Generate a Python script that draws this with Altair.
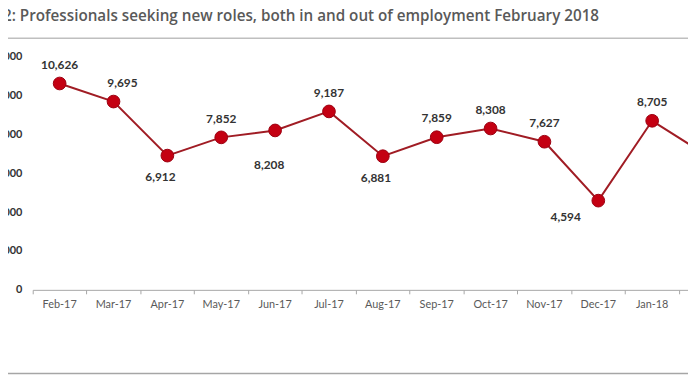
import altair as alt
import pandas as pd

months = ["Feb-17", "Mar-17", "Apr-17", "May-17", "Jun-17", "Jul-17", "Aug-17",
          "Sep-17", "Oct-17", "Nov-17", "Dec-17", "Jan-18", "Feb-18"]
values = [10626, 9695, 6912, 7852, 8208, 9187, 6881, 7859, 8308, 7627, 4594, 8705, 6950]
label_pos = ["above", "above_right", "below", "above", "below_far", "above", "below",
             "above", "above", "above", "below_left", "above", "none"]
y_ticks = [0, 2000, 4000, 6000, 8000, 10000, 12000]
title_text = "Figure 2: Professionals seeking new roles, both in and out of employment February 2018"

df = pd.DataFrame({"month": months, "value": values, "pos": label_pos})

STEP = 54.5
W, H = 663, 235.8
LINE_COLOR = "#a01c24"
FILL_COLOR = "#c40012"
FONT = "Lato"

x_enc = alt.X(
    "month:N", sort=months,
    scale=alt.Scale(type="band", domain=months, range=[0, STEP * len(months)],
                    paddingInner=0, paddingOuter=0),
    axis=alt.Axis(title=None, bandPosition=0, labelAngle=0,
                  domainColor="#a6a6a6", tickColor="#a6a6a6", tickSize=4,
                  labelPadding=5, labelFont=FONT, labelFontSize=11,
                  labelColor="#595959", grid=False, labelOverlap=False),
)
y_enc = alt.Y(
    "value:Q",
    scale=alt.Scale(domain=[0, 12000], nice=False),
    axis=alt.Axis(values=y_ticks, format=",.0f", title=None, domain=False, ticks=False,
                  tickSize=0, grid=False, labelPadding=11, labelFont=FONT,
                  labelFontSize=11, labelFontWeight="bold", labelColor="#333333"),
)

base = alt.Chart(df).encode(x=x_enc, y=y_enc)

line = base.mark_line(color=LINE_COLOR, strokeWidth=2)
points = base.mark_circle(size=165, fill=FILL_COLOR, stroke="#9c0010",
                          strokeWidth=1, opacity=1)

offsets = {
    "above": (0, -19),
    "above_right": (9, -19),
    "below": (-7, 22),
    "below_far": (-6, 35),
    "below_left": (-33, 17),
}
texts = []
for p, (dx, dy) in offsets.items():
    texts.append(
        base.transform_filter(alt.datum.pos == p)
        .mark_text(dx=dx, dy=dy, font=FONT, fontSize=12, fontWeight="bold",
                   color="#333333")
        .encode(text=alt.Text("value:Q", format=","))
    )

title = alt.Chart(pd.DataFrame({"t": [title_text]})).mark_text(
    align="right", baseline="alphabetic", font="Open Sans", fontSize=15.4,
    fontWeight=600, color="#595959"
).encode(x=alt.value(573), y=alt.value(-36.2), text="t:N")

rule_df = pd.DataFrame({"a": [0]})
rule_top = alt.Chart(rule_df).mark_rule(color="#bfbfbf", strokeWidth=1.5).encode(
    x=alt.value(-25), x2=alt.value(W), y=alt.value(-18.7))
rule_bottom = alt.Chart(rule_df).mark_rule(color="#a6a6a6", strokeWidth=1.5).encode(
    x=alt.value(-25), x2=alt.value(W), y=alt.value(320.5))

chart = alt.layer(rule_top, rule_bottom, title, line, points, *texts).properties(
    width=W, height=H,
    padding={"left": 25, "top": 47.2, "right": 0, "bottom": 86},
    autosize=alt.AutoSizeParams(type="none"),
).configure_view(stroke=None)

chart.save("out.html", embed_options={"renderer": "svg", "actions": False})
